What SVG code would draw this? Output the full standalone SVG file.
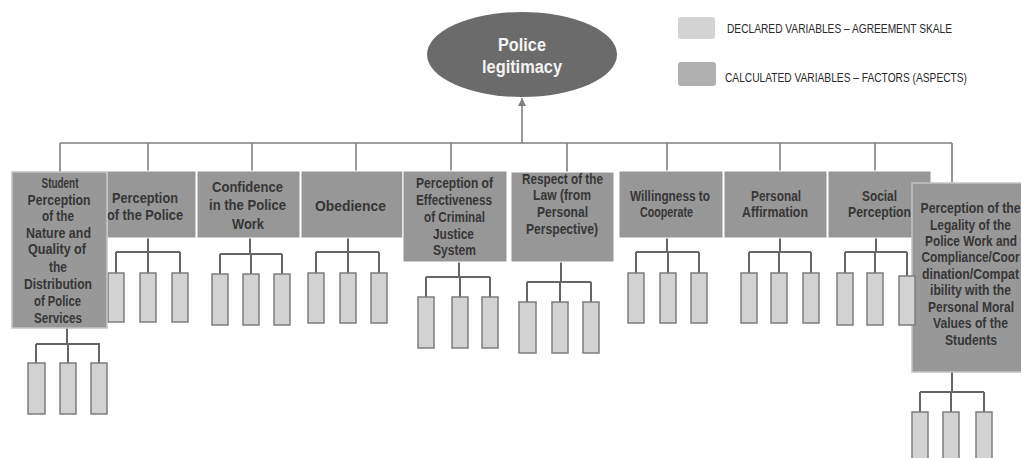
<svg xmlns="http://www.w3.org/2000/svg" width="1021" height="458" viewBox="0 0 1021 458">
<defs>
<style>
.bus{stroke:#7f7f7f;stroke-width:1.6;fill:none}
.br{stroke:#666;stroke-width:2;fill:none}
.box{fill:#979797;stroke:#ffffff;stroke-width:1}
.boxl{fill:#989898;stroke:#c4c4c4;stroke-width:1.5}
.ind{fill:#d2d2d2;stroke:#7d7d7d;stroke-width:1.5}
.t{font-family:"Liberation Sans",Arial,sans-serif;font-weight:bold;font-size:14.5px;fill:#363636;text-anchor:middle}
.et{font-family:"Liberation Sans",Arial,sans-serif;font-weight:bold;font-size:18px;fill:#f4f4f4;text-anchor:middle}
.lt{font-family:"Liberation Sans",Arial,sans-serif;font-size:13px;fill:#2a2a2a}
</style>
<marker id="ah" viewBox="0 0 10 10" refX="10" refY="5" markerWidth="5" markerHeight="5" orient="auto">
<path d="M0,0 L10,5 L0,10 z" fill="#7f7f7f"/>
</marker>
</defs>
<rect width="1021" height="458" fill="#ffffff"/>

<g id="legend">
<rect x="678" y="17" width="37" height="22" rx="3" fill="#d3d3d3"/>
<text class="lt" x="727" y="33" textLength="225" lengthAdjust="spacingAndGlyphs">DECLARED VARIABLES – AGREEMENT SKALE</text>
<rect x="678" y="62" width="38" height="24" rx="3" fill="#b0b0b0"/>
<text class="lt" x="725" y="82" textLength="242" lengthAdjust="spacingAndGlyphs">CALCULATED VARIABLES – FACTORS (ASPECTS)</text>
</g>

<g id="connectors">
<path class="bus" d="M522,143 L522,98" marker-end="url(#ah)"/>
<path class="bus" d="M60,143 H952 M60,143 V172 M148,143 V171 M252,143 V171 M356,143 V171 M451,143 V171 M567,143 V172 M667,143 V171 M780,143 V171 M875,143 V171 M952,143 V183"/>
<path class="br" d="M67,328 V344 M36,344 H100 M36,344 V363 M68,344 V363 M99,344 V363"/>
<path class="br" d="M148,238 V252 M116,252 H180 M116,252 V273 M148,252 V273 M180,252 V273"/>
<path class="br" d="M250,238 V254 M220,254 H282 M220,254 V274 M251,254 V274 M282,254 V274"/>
<path class="br" d="M348,238 V252 M316,252 H379 M316,252 V273 M348,252 V273 M379,252 V273"/>
<path class="br" d="M459,262 V277 M426,277 H490 M426,277 V297 M460,277 V297 M490,277 V297"/>
<path class="br" d="M561,262 V282 M527,282 H591 M527,282 V302 M560,282 V302 M591,282 V302"/>
<path class="br" d="M667,238 V252 M636,252 H699 M636,252 V273 M668,252 V273 M699,252 V273"/>
<path class="br" d="M780,238 V252 M749,252 H811 M749,252 V273 M779,252 V273 M811,252 V273"/>
<path class="br" d="M876,238 V252 M845,252 H907 M845,252 V273 M875,252 V273 M907,252 V276"/>
<path class="br" d="M952,372 V392 M920,392 H984 M920,392 V412 M951,392 V412 M984,392 V412"/>
</g>

<g id="police-legitimacy">
<ellipse cx="522" cy="54.5" rx="95" ry="42.5" fill="#6b6b6b"/>
<text class="et" x="522" y="51" textLength="48" lengthAdjust="spacingAndGlyphs">Police</text>
<text class="et" x="522" y="73" textLength="80" lengthAdjust="spacingAndGlyphs">legitimacy</text>
</g>

<g id="perception-of-police">
<rect class="box" x="107" y="171" width="89" height="67"/>
<text class="t" x="145" y="203" textLength="66" lengthAdjust="spacingAndGlyphs">Perception</text>
<text class="t" x="145" y="220" textLength="76" lengthAdjust="spacingAndGlyphs">of the Police</text>
</g>
<g id="ind-perception-of-police">
<rect class="ind" x="108" y="273" width="16" height="49"/>
<rect class="ind" x="140" y="273" width="16" height="49"/>
<rect class="ind" x="172" y="273" width="16" height="49"/>
</g>

<g id="student-perception">
<rect class="boxl" x="12" y="172" width="95" height="156"/>
<text class="t" x="60" y="188" textLength="37" lengthAdjust="spacingAndGlyphs">Student</text>
<text class="t" x="59" y="205" textLength="63" lengthAdjust="spacingAndGlyphs">Perception</text>
<text class="t" x="58" y="221" textLength="32" lengthAdjust="spacingAndGlyphs">of the</text>
<text class="t" x="58.5" y="238" textLength="65" lengthAdjust="spacingAndGlyphs">Nature and</text>
<text class="t" x="57" y="254" textLength="58" lengthAdjust="spacingAndGlyphs">Quality of</text>
<text class="t" x="58" y="272" textLength="18" lengthAdjust="spacingAndGlyphs">the</text>
<text class="t" x="58" y="289" textLength="68" lengthAdjust="spacingAndGlyphs">Distribution</text>
<text class="t" x="57.5" y="306" textLength="47" lengthAdjust="spacingAndGlyphs">of Police</text>
<text class="t" x="58" y="323" textLength="48" lengthAdjust="spacingAndGlyphs">Services</text>
</g>
<g id="ind-student-perception">
<rect class="ind" x="28" y="363" width="17" height="51"/>
<rect class="ind" x="60" y="363" width="16" height="51"/>
<rect class="ind" x="91" y="363" width="16" height="51"/>
</g>

<g id="confidence">
<rect class="box" x="197" y="171" width="103" height="67"/>
<text class="t" x="247.5" y="192" textLength="71" lengthAdjust="spacingAndGlyphs">Confidence</text>
<text class="t" x="247.5" y="210" textLength="77" lengthAdjust="spacingAndGlyphs">in the Police</text>
<text class="t" x="248" y="229" textLength="32" lengthAdjust="spacingAndGlyphs">Work</text>
</g>
<g id="ind-confidence">
<rect class="ind" x="212" y="274" width="16" height="51"/>
<rect class="ind" x="243" y="274" width="16" height="51"/>
<rect class="ind" x="274" y="274" width="16" height="51"/>
</g>

<g id="obedience">
<rect class="box" x="301" y="171" width="102" height="67"/>
<text class="t" x="350.5" y="211" textLength="71" lengthAdjust="spacingAndGlyphs">Obedience</text>
</g>
<g id="ind-obedience">
<rect class="ind" x="308" y="273" width="16" height="50"/>
<rect class="ind" x="340" y="273" width="16" height="50"/>
<rect class="ind" x="371" y="273" width="16" height="50"/>
</g>

<g id="effectiveness">
<rect class="box" x="403" y="171" width="104" height="91"/>
<text class="t" x="454.5" y="188" textLength="77" lengthAdjust="spacingAndGlyphs">Perception of</text>
<text class="t" x="454" y="205" textLength="76" lengthAdjust="spacingAndGlyphs">Effectiveness</text>
<text class="t" x="454.5" y="222" textLength="61" lengthAdjust="spacingAndGlyphs">of Criminal</text>
<text class="t" x="453.5" y="239" textLength="41" lengthAdjust="spacingAndGlyphs">Justice</text>
<text class="t" x="454.5" y="255" textLength="43" lengthAdjust="spacingAndGlyphs">System</text>
</g>
<g id="ind-effectiveness">
<rect class="ind" x="418" y="297" width="16" height="51"/>
<rect class="ind" x="452" y="297" width="16" height="51"/>
<rect class="ind" x="482" y="297" width="16" height="51"/>
</g>

<g id="respect-of-law">
<rect class="box" x="511" y="172" width="103" height="90"/>
<text class="t" x="562.5" y="184" textLength="81" lengthAdjust="spacingAndGlyphs">Respect of the</text>
<text class="t" x="562" y="200" textLength="58" lengthAdjust="spacingAndGlyphs">Law (from</text>
<text class="t" x="562.5" y="217" textLength="51" lengthAdjust="spacingAndGlyphs">Personal</text>
<text class="t" x="562" y="234" textLength="72" lengthAdjust="spacingAndGlyphs">Perspective)</text>
</g>
<g id="ind-respect-of-law">
<rect class="ind" x="519" y="302" width="17" height="51"/>
<rect class="ind" x="552" y="302" width="16" height="51"/>
<rect class="ind" x="583" y="302" width="16" height="51"/>
</g>

<g id="willingness">
<rect class="box" x="619" y="171" width="104" height="67"/>
<text class="t" x="670" y="201" textLength="80" lengthAdjust="spacingAndGlyphs">Willingness to</text>
<text class="t" x="666.5" y="217" textLength="53" lengthAdjust="spacingAndGlyphs">Cooperate</text>
</g>
<g id="ind-willingness">
<rect class="ind" x="628" y="273" width="16" height="50"/>
<rect class="ind" x="660" y="273" width="16" height="50"/>
<rect class="ind" x="691" y="273" width="16" height="50"/>
</g>

<g id="personal-affirmation">
<rect class="box" x="724" y="171" width="103" height="67"/>
<text class="t" x="776" y="201" textLength="50" lengthAdjust="spacingAndGlyphs">Personal</text>
<text class="t" x="775" y="217" textLength="66" lengthAdjust="spacingAndGlyphs">Affirmation</text>
</g>
<g id="ind-personal-affirmation">
<rect class="ind" x="741" y="273" width="16" height="50"/>
<rect class="ind" x="771" y="273" width="16" height="50"/>
<rect class="ind" x="803" y="273" width="16" height="50"/>
</g>

<g id="social-perception">
<rect class="box" x="828" y="171" width="103" height="67"/>
<text class="t" x="879.5" y="201" textLength="35" lengthAdjust="spacingAndGlyphs">Social</text>
<text class="t" x="879.5" y="217" textLength="63" lengthAdjust="spacingAndGlyphs">Perception</text>
</g>

<g id="legality">
<rect class="boxl" x="912" y="183" width="117" height="189"/>
<text class="t" x="970.5" y="213" textLength="100" lengthAdjust="spacingAndGlyphs">Perception of the</text>
<text class="t" x="970.5" y="230" textLength="81" lengthAdjust="spacingAndGlyphs">Legality of the</text>
<text class="t" x="971" y="246" textLength="92" lengthAdjust="spacingAndGlyphs">Police Work and</text>
<text class="t" x="970.5" y="262" textLength="98" lengthAdjust="spacingAndGlyphs">Compliance/Coor</text>
<text class="t" x="970.5" y="279" textLength="97" lengthAdjust="spacingAndGlyphs">dination/Compat</text>
<text class="t" x="970.5" y="295" textLength="81" lengthAdjust="spacingAndGlyphs">ibility with the</text>
<text class="t" x="971" y="312" textLength="86" lengthAdjust="spacingAndGlyphs">Personal Moral</text>
<text class="t" x="970.5" y="328" textLength="75" lengthAdjust="spacingAndGlyphs">Values of the</text>
<text class="t" x="971" y="345" textLength="52" lengthAdjust="spacingAndGlyphs">Students</text>
</g>
<g id="ind-legality">
<rect class="ind" x="912" y="412" width="16" height="58"/>
<rect class="ind" x="943" y="412" width="16" height="58"/>
<rect class="ind" x="976" y="412" width="16" height="58"/>
</g>

<g id="ind-social-perception">
<rect class="ind" x="837" y="273" width="16" height="52"/>
<rect class="ind" x="867" y="273" width="16" height="52"/>
<rect class="ind" x="899" y="276" width="16" height="49"/>
</g>
</svg>
